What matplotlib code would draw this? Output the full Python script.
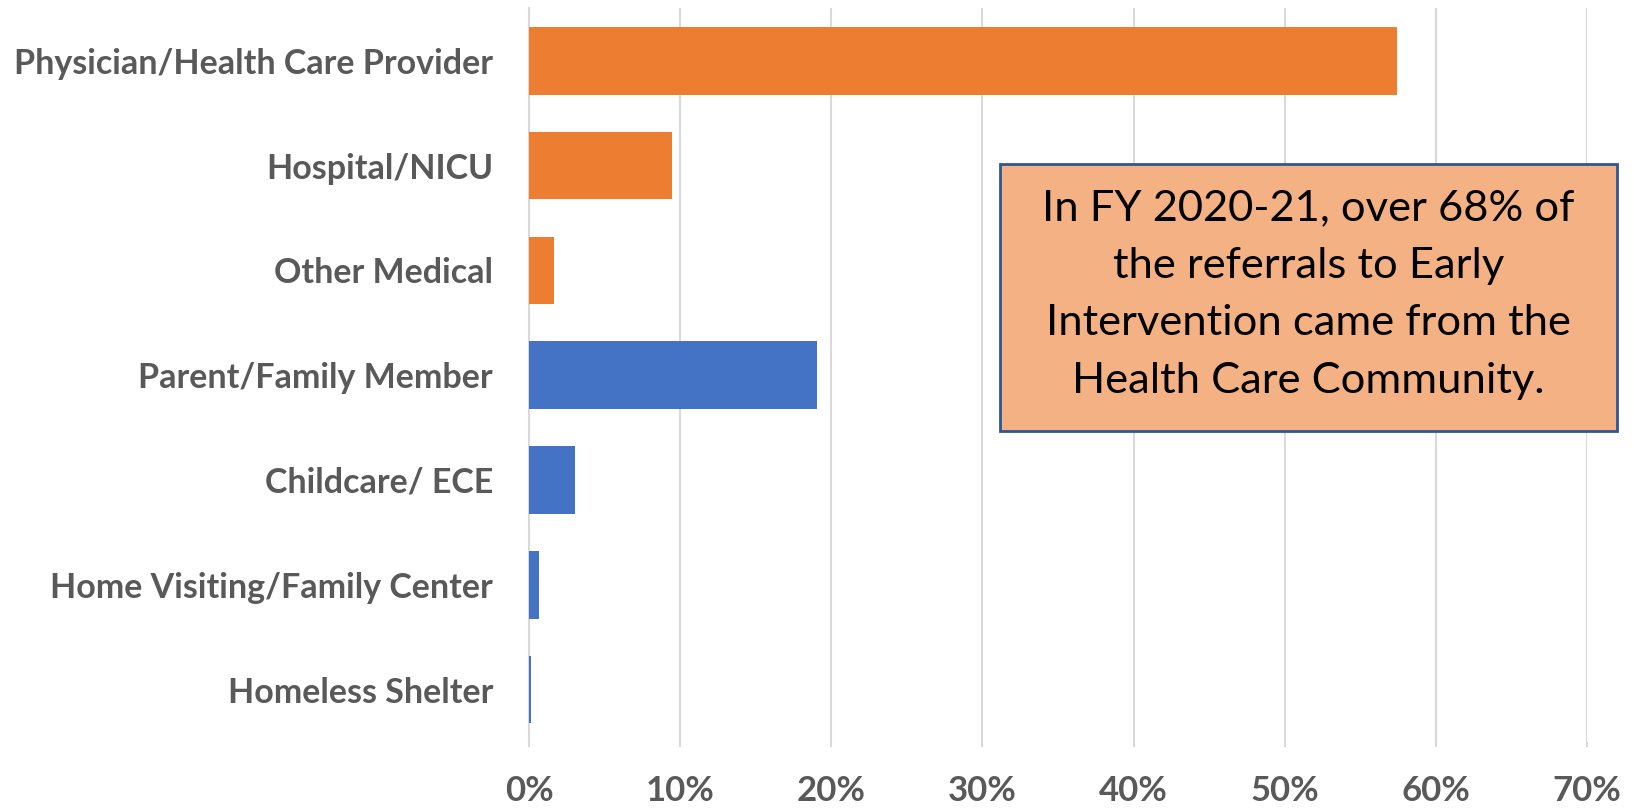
import matplotlib
matplotlib.use("Agg")
import matplotlib.pyplot as plt
from matplotlib.ticker import FuncFormatter, MultipleLocator
from matplotlib.patches import Rectangle

categories = ["Physician/Health Care Provider", "Hospital/NICU", "Other Medical",
              "Parent/Family Member", "Childcare/ ECE", "Home Visiting/Family Center",
              "Homeless Shelter"]
values = [0.574, 0.0947, 0.0163, 0.1905, 0.0307, 0.0066, 0.0011]
groups = ["medical", "medical", "medical", "other", "other", "other", "other"]
group_colors = {"medical": "#ED7D31", "other": "#4472C4"}
note = "In FY 2020-21, over 68% of\nthe referrals to Early\nIntervention came from the\nHealth Care Community."

plt.rcParams['font.family'] = ['Lato', 'DejaVu Sans']

fig = plt.figure(figsize=(16.34, 8.09), dpi=100)
ax = fig.add_axes([529/1634, 1-742/809, (1587-529)/1634, (742-8.3)/809])

ypos = list(range(len(categories)))
ax.barh(ypos, values, height=0.645, color=[group_colors[g] for g in groups], zorder=3)
ax.set_ylim(len(categories) - 0.5, -0.5)
ax.set_xlim(0, 0.70)
ax.set_yticks(ypos)
ax.set_yticklabels(categories)
ax.xaxis.set_major_locator(MultipleLocator(0.10))
ax.xaxis.set_major_formatter(FuncFormatter(lambda v, p: f"{round(v*100):.0f}%"))

ax.grid(axis='x', color='#D9D9D9', linewidth=1.5, zorder=0)
for s in ['top', 'right', 'bottom']:
    ax.spines[s].set_visible(False)
ax.spines['left'].set_color('#D9D9D9')
ax.spines['left'].set_linewidth(1.5)

ax.tick_params(axis='y', length=0, pad=26, labelsize=24.5, labelcolor='#595959')
ax.tick_params(axis='x', length=3.6, width=1.5, color='#D9D9D9', direction='out',
               pad=20, labelsize=25, labelcolor='#595959')
for lbl in ax.get_yticklabels() + ax.get_xticklabels():
    lbl.set_fontweight('bold')

# Annotation box
x0, y0, x1, y1 = 1000/1634, 1-431/809, 1617/1634, 1-164/809
rect = Rectangle((x0, y0), x1-x0, y1-y0, transform=fig.transFigure,
                 facecolor='#F4B183', edgecolor='#2F5597', linewidth=2, zorder=5)
fig.patches.append(rect)
fig.text((x0+x1)/2, (y0+y1)/2 + 0.0035, note, ha='center', va='center', fontsize=31.3,
         color='black', linespacing=1.63, zorder=6)

fig.savefig("out.png", dpi=100)
